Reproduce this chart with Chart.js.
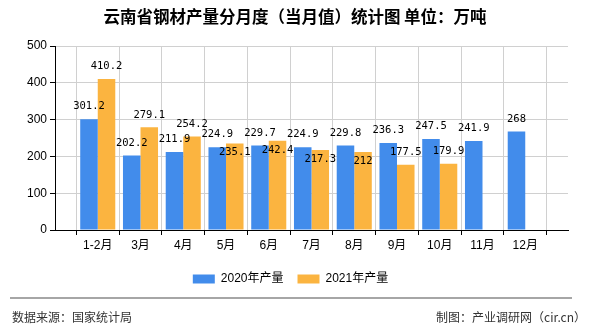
<!DOCTYPE html>
<html>
<head>
<meta charset="utf-8">
<script src="https://cdn.jsdelivr.net/npm/chart.js@4.4.0/dist/chart.umd.min.js"></script>
<style>
  html, body { margin: 0; padding: 0; background: #fff; }
  #wrap { width: 590px; height: 330px; position: relative; }
</style>
</head>
<body>
<div id="wrap"><canvas id="chart" width="590" height="330"></canvas></div>
<script>
const months = ['1-2月', '3月', '4月', '5月', '6月', '7月', '8月', '9月', '10月', '11月', '12月'];
const output2020 = [301.2, 202.2, 211.9, 224.9, 229.7, 224.9, 229.8, 236.3, 247.5, 241.9, 268];
const output2021 = [410.2, 279.1, 254.2, 235.1, 242.4, 217.3, 212, 177.5, 179.9, null, null];
const yTicks = [0, 100, 200, 300, 400, 500];

const titleText = '云南省钢材产量分月度（当月值）统计图 单位：万吨';
const sourceText = '数据来源：国家统计局';
const makerText = '制图：产业调研网（cir.cn）';

// empty slot on each side so bars sit on the gridlines like the original
const labels = [''].concat(months, ['']);
const pad = arr => [null].concat(arr, [null]);

const cjk = '"Liberation Sans", "Noto Sans CJK SC", sans-serif';

const extras = {
  id: 'extras',
  afterDatasetsDraw(chart) {
    const ctx = chart.ctx;
    ctx.save();
    ctx.font = '10.5px "DejaVu Sans Mono", monospace';
    ctx.fillStyle = '#000';
    ctx.textAlign = 'center';
    ctx.textBaseline = 'middle';
    const m0 = chart.getDatasetMeta(0), m1 = chart.getDatasetMeta(1);
    const d0 = chart.data.datasets[0].data, d1 = chart.data.datasets[1].data;
    for (let i = 0; i < labels.length; i++) {
      let y0 = null;
      if (d0[i] != null) {
        const b = m0.data[i];
        y0 = b.y - 12.5;
        ctx.fillText(String(d0[i]), b.x, y0);
      }
      if (d1[i] != null) {
        const b = m1.data[i];
        let y1 = b.y - 12.5;
        // push the label inside the bar when it would hit the 2020 label
        if (y0 != null && Math.abs(y1 - y0) < 13) y1 = b.y + 9;
        ctx.fillText(String(d1[i]), b.x, y1);
      }
    }
    ctx.restore();
  },
  afterDraw(chart) {
    const ctx = chart.ctx;
    ctx.save();
    ctx.fillStyle = '#000';
    ctx.textAlign = 'center';
    ctx.textBaseline = 'middle';
    ctx.font = 'bold 16.5px "Noto Sans CJK SC", sans-serif';
    ctx.fillText(titleText, 295, 17);

    ctx.strokeStyle = '#888';
    ctx.lineWidth = 1.5;
    ctx.beginPath();
    ctx.moveTo(10, 298);
    ctx.lineTo(572, 298);
    ctx.stroke();

    ctx.fillStyle = '#333';
    ctx.font = '12px "Noto Sans CJK SC", sans-serif';
    ctx.textAlign = 'left';
    ctx.fillText(sourceText, 12, 317);
    ctx.textAlign = 'right';
    ctx.fillText(makerText, 586, 317);
    ctx.restore();
  }
};

new Chart(document.getElementById('chart'), {
  type: 'bar',
  data: {
    labels: labels,
    datasets: [{
      label: '2020年产量',
      data: pad(output2020),
      backgroundColor: '#428CEB',
      categoryPercentage: 0.82,
      barPercentage: 1
    }, {
      label: '2021年产量',
      data: pad(output2021),
      backgroundColor: '#FBB440',
      categoryPercentage: 0.82,
      barPercentage: 1
    }]
  },
  options: {
    responsive: false,
    animation: false,
    layout: { padding: { top: 46, left: 13, right: 22, bottom: 35 } },
    plugins: {
      legend: {
        position: 'bottom',
        labels: {
          boxWidth: 22,
          boxHeight: 9,
          padding: 14,
          color: '#000',
          font: { size: 12, family: cjk }
        }
      },
      tooltip: { enabled: false }
    },
    scales: {
      x: {
        offset: false,
        grid: { color: '#d0d0d0', tickColor: '#000', tickLength: 5 },
        border: { color: '#000' },
        ticks: { color: '#000', font: { size: 12, family: cjk }, maxRotation: 0, autoSkip: false, padding: 3 },
        afterFit(scale) { scale.height = 29; }
      },
      y: {
        min: yTicks[0],
        max: yTicks[yTicks.length - 1],
        afterBuildTicks(scale) { scale.ticks = yTicks.map(v => ({ value: v })); },
        grid: { color: '#d0d0d0', tickColor: '#000', tickLength: 5 },
        border: { color: '#000' },
        ticks: { color: '#000', font: { size: 12, family: cjk }, padding: 3 },
        afterFit(scale) { scale.width = 42; }
      }
    }
  },
  plugins: [extras]
});
</script>
</body>
</html>
